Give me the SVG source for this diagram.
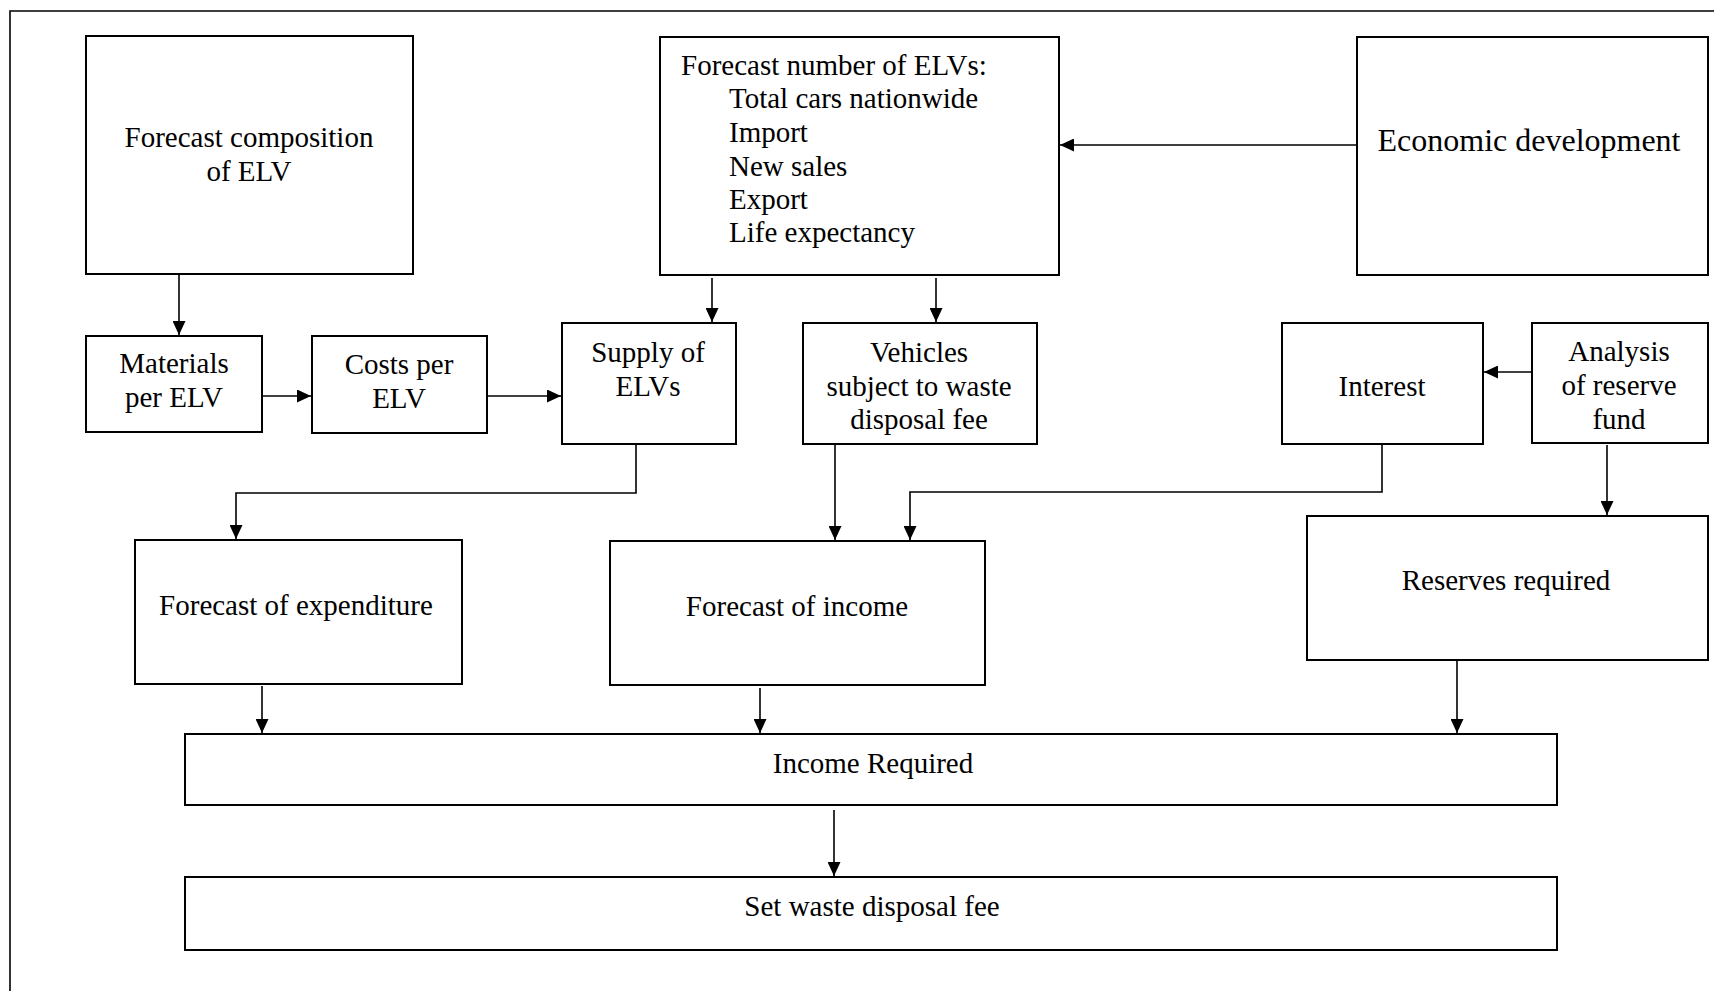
<svg xmlns="http://www.w3.org/2000/svg" width="1714" height="991" viewBox="0 0 1714 991">
  <style>
    .box { fill: #fff; stroke: #000; stroke-width: 2; }
    .frame { fill: none; stroke: #000; stroke-width: 1.6; }
    .link { fill: none; stroke: #000; stroke-width: 1.6; marker-end: url(#arrow); }
    .t { font-family: "Liberation Serif", "Times New Roman", serif; font-size: 29px; fill: #000; }
    .c { text-anchor: middle; }
    .big { font-size: 32px; }
  </style>
  <defs>
    <marker id="arrow" markerUnits="userSpaceOnUse" markerWidth="14" markerHeight="13" refX="14" refY="6.5" orient="auto">
      <path d="M0,0 L14,6.5 L0,13 Z" fill="#000"/>
    </marker>
  </defs>

  <rect width="1714" height="991" fill="#fff"/>
  <path class="frame" d="M10,991 V11 H1714"/>

  <g id="connectors">
    <path class="link" d="M179,275 V335"/>
    <path class="link" d="M263,396 H311"/>
    <path class="link" d="M488,396 H561"/>
    <path class="link" d="M712,278 V322"/>
    <path class="link" d="M936,278 V322"/>
    <path class="link" d="M1356,145 H1060"/>
    <path class="link" d="M1531,372 H1484"/>
    <path class="link" d="M636,445 V493 H236 V539"/>
    <path class="link" d="M835,445 V540"/>
    <path class="link" d="M1382,445 V492 H910 V540"/>
    <path class="link" d="M1607,445 V515"/>
    <path class="link" d="M262,686 V733"/>
    <path class="link" d="M760,688 V733"/>
    <path class="link" d="M1457,661 V733"/>
    <path class="link" d="M834,810 V876"/>
  </g>

  <g id="composition">
    <rect class="box" x="86" y="36" width="327" height="238"/>
    <text class="t c" x="249" y="147">Forecast composition</text>
    <text class="t c" x="249" y="181">of ELV</text>
  </g>

  <g id="forecast-number">
    <rect class="box" x="660" y="37" width="399" height="238"/>
    <text class="t" x="681" y="75">Forecast number of ELVs:</text>
    <text class="t" x="729" y="108">Total cars nationwide</text>
    <text class="t" x="729" y="142">Import</text>
    <text class="t" x="729" y="176">New sales</text>
    <text class="t" x="729" y="209">Export</text>
    <text class="t" x="729" y="242">Life expectancy</text>
  </g>

  <g id="economic">
    <rect class="box" x="1357" y="37" width="351" height="238"/>
    <text class="t c big" x="1529" y="151">Economic development</text>
  </g>

  <g id="materials">
    <rect class="box" x="86" y="336" width="176" height="96"/>
    <text class="t c" x="174" y="373">Materials</text>
    <text class="t c" x="174" y="407">per ELV</text>
  </g>

  <g id="costs">
    <rect class="box" x="312" y="336" width="175" height="97"/>
    <text class="t c" x="399" y="374">Costs per</text>
    <text class="t c" x="399" y="408">ELV</text>
  </g>

  <g id="supply">
    <rect class="box" x="562" y="323" width="174" height="121"/>
    <text class="t c" x="648" y="362">Supply of</text>
    <text class="t c" x="648" y="396">ELVs</text>
  </g>

  <g id="vehicles">
    <rect class="box" x="803" y="323" width="234" height="121"/>
    <text class="t c" x="919" y="362">Vehicles</text>
    <text class="t c" x="919" y="396">subject to waste</text>
    <text class="t c" x="919" y="429">disposal fee</text>
  </g>

  <g id="interest">
    <rect class="box" x="1282" y="323" width="201" height="121"/>
    <text class="t c" x="1382" y="396">Interest</text>
  </g>

  <g id="analysis">
    <rect class="box" x="1532" y="323" width="176" height="120"/>
    <text class="t c" x="1619" y="361">Analysis</text>
    <text class="t c" x="1619" y="395">of reserve</text>
    <text class="t c" x="1619" y="429">fund</text>
  </g>

  <g id="expenditure">
    <rect class="box" x="135" y="540" width="327" height="144"/>
    <text class="t c" x="296" y="615">Forecast of expenditure</text>
  </g>

  <g id="income">
    <rect class="box" x="610" y="541" width="375" height="144"/>
    <text class="t c" x="797" y="616">Forecast of income</text>
  </g>

  <g id="reserves">
    <rect class="box" x="1307" y="516" width="401" height="144"/>
    <text class="t c" x="1506" y="590">Reserves required</text>
  </g>

  <g id="income-required">
    <rect class="box" x="185" y="734" width="1372" height="71"/>
    <text class="t c" x="873" y="773">Income Required</text>
  </g>

  <g id="set-fee">
    <rect class="box" x="185" y="877" width="1372" height="73"/>
    <text class="t c" x="872" y="916">Set waste disposal fee</text>
  </g>
</svg>
